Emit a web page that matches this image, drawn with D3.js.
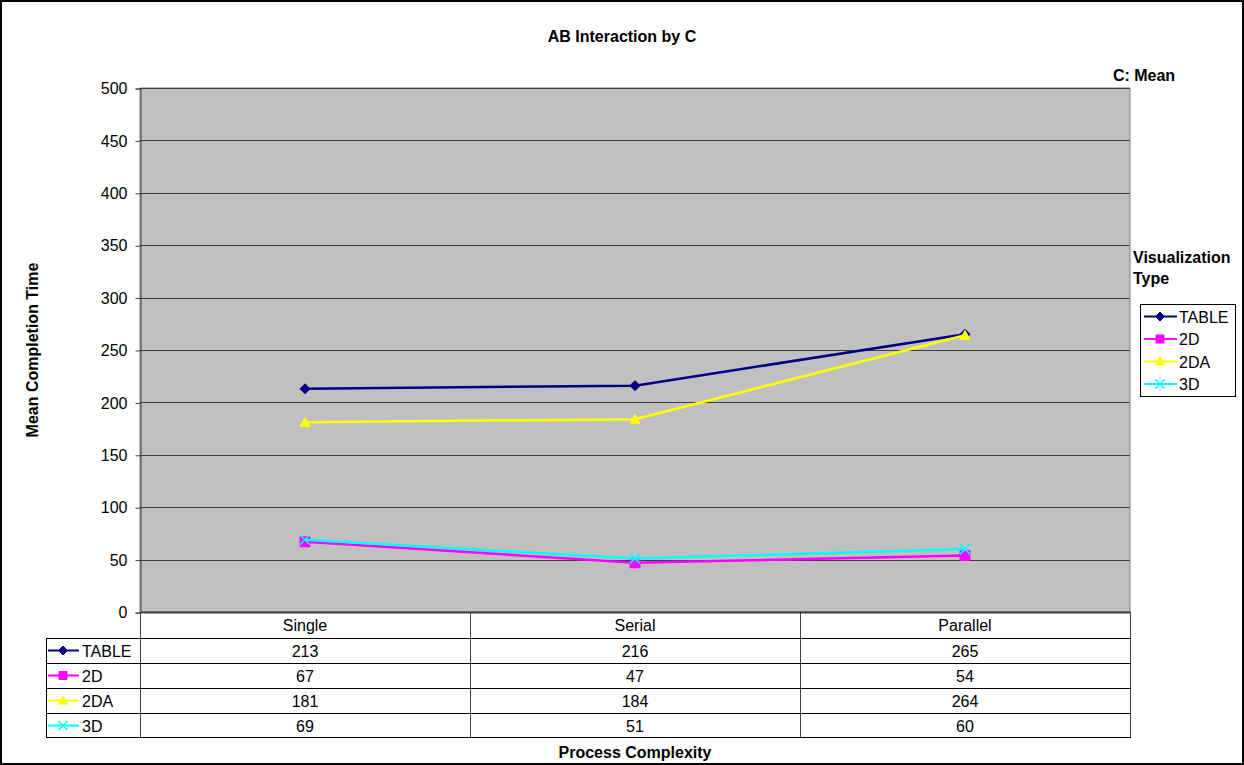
<!DOCTYPE html>
<html>
<head>
<meta charset="utf-8">
<script src="https://cdn.jsdelivr.net/npm/d3@7/dist/d3.min.js"></script>
<style>
  html, body { margin: 0; padding: 0; background: #fff; }
  svg { display: block; font-family: "Liberation Sans", Arial, sans-serif; }
</style>
</head>
<body>
<svg id="chart" width="1244" height="765"></svg>
<script>
// Process complexity categories along the x axis
const categories = ["Single", "Serial", "Parallel"];
// Mean completion time per visualization type
const seriesNames = ["TABLE", "2D", "2DA", "3D"];
const tableValues = [213, 216, 265];
const twoDValues = [67, 47, 54];
const twoDAValues = [181, 184, 264];
const threeDValues = [69, 51, 60];
const yTicks = [0, 50, 100, 150, 200, 250, 300, 350, 400, 450, 500];

const series = [
  { name: seriesNames[0], values: tableValues, color: "#000080", marker: "diamond" },
  { name: seriesNames[1], values: twoDValues, color: "#FF00FF", marker: "square" },
  { name: seriesNames[2], values: twoDAValues, color: "#FFFF00", marker: "triangle" },
  { name: seriesNames[3], values: threeDValues, color: "#00FFFF", marker: "x" }
];

const FS = 16;
const svg = d3.select("#chart");
const W = 1244, H = 765;

// outer frame
svg.append("rect").attr("x", 1).attr("y", 1).attr("width", W - 2).attr("height", H - 2)
  .attr("fill", "#fff").attr("stroke", "#000").attr("stroke-width", 2);

const plot = { left: 140, right: 1130, top: 88, bottom: 612 };

const x = d3.scaleBand().domain(categories).range([plot.left, plot.right]);
const y = d3.scaleLinear().domain([0, 500]).range([plot.bottom, plot.top]);

// plot background
svg.append("rect").attr("x", plot.left).attr("y", plot.top)
  .attr("width", plot.right - plot.left).attr("height", plot.bottom - plot.top)
  .attr("fill", "#C0C0C0").attr("stroke", "#808080").attr("stroke-width", 1);

// horizontal gridlines
svg.append("g").selectAll("line").data(yTicks.slice(1)).join("line")
  .attr("x1", plot.left).attr("x2", plot.right)
  .attr("y1", d => Math.round(y(d)) + 0.5).attr("y2", d => Math.round(y(d)) + 0.5)
  .attr("stroke", "#404040").attr("stroke-width", 1);

// y axis
const yAxis = d3.axisLeft(y).tickValues(yTicks).tickSize(5).tickPadding(8);
const gy = svg.append("g").attr("transform", `translate(${plot.left + 0.5},0.5)`).call(yAxis);
gy.select(".domain").attr("stroke", "#404040");
gy.selectAll(".tick line").attr("stroke", "#404040");
gy.selectAll(".tick text").attr("font-size", FS).attr("fill", "#000")
  .attr("font-family", "Liberation Sans, Arial, sans-serif");

// x axis baseline
svg.append("line").attr("x1", plot.left).attr("x2", plot.right)
  .attr("y1", plot.bottom + 0.5).attr("y2", plot.bottom + 0.5)
  .attr("stroke", "#404040").attr("stroke-width", 2);

// markers
function markerPath(type, size) {
  const s = size;
  switch (type) {
    case "diamond": return `M0,${-s}L${s},0L0,${s}L${-s},0Z`;
    case "square": return `M${-s},${-s}H${s}V${s}H${-s}Z`;
    case "triangle": return `M0,${-s}L${s},${s * 0.8}H${-s}Z`;
    case "x": return `M${-s},${-s}L${s},${s}M${s},${-s}L${-s},${s}`;
  }
}
function drawMarker(g, type, color, cx, cy, s) {
  const p = g.append("path").attr("d", markerPath(type, s))
    .attr("transform", `translate(${cx},${cy})`);
  if (type === "x") p.attr("fill", "none").attr("stroke", color).attr("stroke-width", 1.5);
  else p.attr("fill", color).attr("stroke", color).attr("stroke-width", 1);
}

const line = d3.line().x((d, i) => x(categories[i]) + x.bandwidth() / 2).y(d => y(d));
const gLines = svg.append("g");
series.forEach(s => {
  gLines.append("path").datum(s.values).attr("d", line)
    .attr("fill", "none").attr("stroke", s.color).attr("stroke-width", 2.5);
  s.values.forEach((v, i) => {
    drawMarker(gLines, s.marker, s.color, x(categories[i]) + x.bandwidth() / 2, y(v), 5);
  });
});

// data table below the plot
const rowH = 25;
const headTop = plot.bottom, headBottom = 638;
const tableLeft = 46;
const tg = svg.append("g");
const rowTops = series.map((s, i) => headBottom + i * rowH);
const tableBottom = headBottom + series.length * rowH - 1;

// header cells
categories.forEach(c => {
  tg.append("text").attr("x", x(c) + x.bandwidth() / 2).attr("y", (headTop + headBottom) / 2 + 6)
    .attr("text-anchor", "middle").attr("font-size", FS).text(c);
});
// vertical lines of header and body
const colEdges = [plot.left, ...categories.map(c => x(c) + x.bandwidth())];
colEdges.forEach(xe => {
  tg.append("line").attr("x1", Math.round(xe) + 0.5).attr("x2", Math.round(xe) + 0.5)
    .attr("y1", headTop).attr("y2", tableBottom)
    .attr("stroke", "#404040").attr("stroke-width", 1);
});
tg.append("line").attr("x1", tableLeft + 0.5).attr("x2", tableLeft + 0.5)
  .attr("y1", headBottom).attr("y2", tableBottom).attr("stroke", "#000");
// horizontal row lines
[headBottom, ...rowTops.slice(1), tableBottom].forEach(yy => {
  tg.append("line").attr("x1", tableLeft).attr("x2", plot.right + 1)
    .attr("y1", yy + 0.5).attr("y2", yy + 0.5).attr("stroke", "#000");
});
series.forEach((s, i) => {
  const cy = rowTops[i] + rowH / 2;
  tg.append("line").attr("x1", 48).attr("x2", 79).attr("y1", cy).attr("y2", cy)
    .attr("stroke", s.color).attr("stroke-width", 2);
  drawMarker(tg, s.marker, s.color, 63, cy, s.marker === "square" ? 4 : 4.5);
  tg.append("text").attr("x", 82).attr("y", cy + 6).attr("font-size", FS).text(s.name);
  s.values.forEach((v, j) => {
    tg.append("text").attr("x", x(categories[j]) + x.bandwidth() / 2).attr("y", cy + 6)
      .attr("text-anchor", "middle").attr("font-size", FS).text(v);
  });
});

// titles
svg.append("text").attr("x", 622).attr("y", 42).attr("text-anchor", "middle")
  .attr("font-size", FS).attr("font-weight", "bold").text("AB Interaction by C");
svg.append("text").attr("x", 1144).attr("y", 81).attr("text-anchor", "middle")
  .attr("font-size", FS).attr("font-weight", "bold").text("C: Mean");
svg.append("text").attr("transform", `translate(38,${(plot.top + plot.bottom) / 2}) rotate(-90)`)
  .attr("text-anchor", "middle").attr("font-size", FS).attr("font-weight", "bold")
  .text("Mean Completion Time");
svg.append("text").attr("x", 635).attr("y", 758).attr("text-anchor", "middle")
  .attr("font-size", FS).attr("font-weight", "bold").text("Process Complexity");

// legend
svg.append("text").attr("x", 1133).attr("y", 263).attr("font-size", FS).attr("font-weight", "bold")
  .text("Visualization");
svg.append("text").attr("x", 1133).attr("y", 284).attr("font-size", FS).attr("font-weight", "bold")
  .text("Type");
const lg = svg.append("g");
lg.append("rect").attr("x", 1140.5).attr("y", 304.5).attr("width", 95).attr("height", 92)
  .attr("fill", "#fff").attr("stroke", "#000");
series.forEach((s, i) => {
  const cy = 316.5 + i * 22.5;
  lg.append("line").attr("x1", 1144).attr("x2", 1177).attr("y1", cy).attr("y2", cy)
    .attr("stroke", s.color).attr("stroke-width", 2);
  drawMarker(lg, s.marker, s.color, 1160, cy, s.marker === "square" ? 4 : 4.5);
  lg.append("text").attr("x", 1179).attr("y", cy + 6).attr("font-size", FS).text(s.name);
});
</script>
</body>
</html>
